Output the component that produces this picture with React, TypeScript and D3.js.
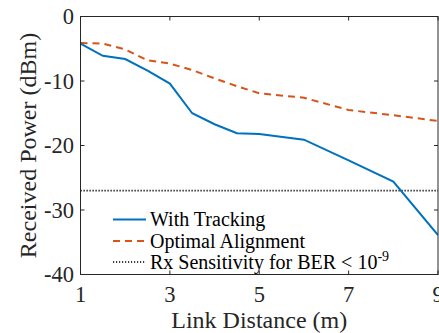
import React from "react";
import * as d3 from "d3";

const distances = [1, 1.5, 2, 2.5, 3, 3.5, 4, 4.5, 5, 6, 7, 8, 9];
const withTracking = [-4.2, -6.1, -6.6, -8.4, -10.4, -15.0, -16.7, -18.1, -18.2, -19.1, -22.3, -25.6, -33.9];
const optimalAlignment = [-4.1, -4.2, -5.1, -6.8, -7.3, -8.3, -9.6, -10.8, -11.9, -12.6, -14.5, -15.3, -16.2];
const rxSensitivity = -27;
const xTicks = [1, 3, 5, 7, 9];
const yTicks = [0, -10, -20, -30, -40];
const legendLabels = ["With Tracking", "Optimal Alignment", "Rx Sensitivity for BER < 10"];

const W = 439, H = 333;
const left = 80.5, right = 438, top = 16.5, bottom = 274.5;
const FONT = "'Liberation Serif', 'Times New Roman', serif";
const AX = "#262626";

export default function App() {
  const x = d3.scaleLinear().domain([1, 9]).range([left, right]);
  const y = d3.scaleLinear().domain([-40, 0]).range([bottom, top]);
  const line = d3.line<[number, number]>().x(d => x(d[0])).y(d => y(d[1]));
  const tr = line(distances.map((d, i) => [d, withTracking[i]]) as [number, number][]) || "";
  const op = line(distances.map((d, i) => [d, optimalAlignment[i]]) as [number, number][]) || "";
  const legY = [219.5, 241, 262];
  return (
    <svg width={W} height={H} style={{ position: "absolute", left: 0, top: 0, background: "#fff" }} fontFamily={FONT}>
      <rect x={0} y={0} width={W} height={H} fill="#fff" />
      <clipPath id="clip"><rect x={left} y={top} width={right - left} height={bottom - top} /></clipPath>
      <g clipPath="url(#clip)">
        <line x1={x(1)} x2={x(9)} y1={y(rxSensitivity)} y2={y(rxSensitivity)} stroke="#000" strokeWidth={1.6} strokeDasharray="1.2 1.8" />
        <path d={op} fill="none" stroke="#D95319" strokeWidth={2} strokeDasharray="7 5" />
        <path d={tr} fill="none" stroke="#0072BD" strokeWidth={2} />
      </g>
      <rect x={left} y={top} width={right - left} height={bottom - top} fill="none" stroke={AX} strokeWidth={1} />
      {xTicks.map(t => (
        <g key={"x" + t}>
          <line x1={x(t)} x2={x(t)} y1={bottom} y2={bottom - 4} stroke={AX} />
          <line x1={x(t)} x2={x(t)} y1={top} y2={top + 4} stroke={AX} />
          <text x={x(t)} y={302} textAnchor="middle" fontSize={22.5} fill={AX}>{t}</text>
        </g>
      ))}
      {yTicks.map(t => (
        <g key={"y" + t}>
          <line x1={left} x2={left + 4} y1={y(t)} y2={y(t)} stroke={AX} />
          <line x1={right} x2={right - 4} y1={y(t)} y2={y(t)} stroke={AX} />
          <text x={74} y={y(t) + 7.5} textAnchor="end" fontSize={22.5} fill={AX}>{t}</text>
        </g>
      ))}
      <text x={(left + right) / 2} y={328} textAnchor="middle" fontSize={24} fill={AX}>Link Distance (m)</text>
      <text transform={`translate(36,${(top + bottom) / 2}) rotate(-90)`} textAnchor="middle" fontSize={24} fill={AX}>Received Power (dBm)</text>
      <line x1={113} x2={146} y1={legY[0]} y2={legY[0]} stroke="#0072BD" strokeWidth={2} />
      <line x1={113} x2={146} y1={legY[1]} y2={legY[1]} stroke="#D95319" strokeWidth={2} strokeDasharray="7 5" />
      <line x1={113} x2={146} y1={legY[2]} y2={legY[2]} stroke="#000" strokeWidth={1.6} strokeDasharray="1.2 1.8" />
      {legendLabels.map((l, i) => (
        <text key={l} x={150} y={legY[i] + 6.5} fontSize={20} fill="#000">
          {l}
          {i === 2 ? <tspan dy={-8} fontSize={14}>-9</tspan> : null}
        </text>
      ))}
    </svg>
  );
}
